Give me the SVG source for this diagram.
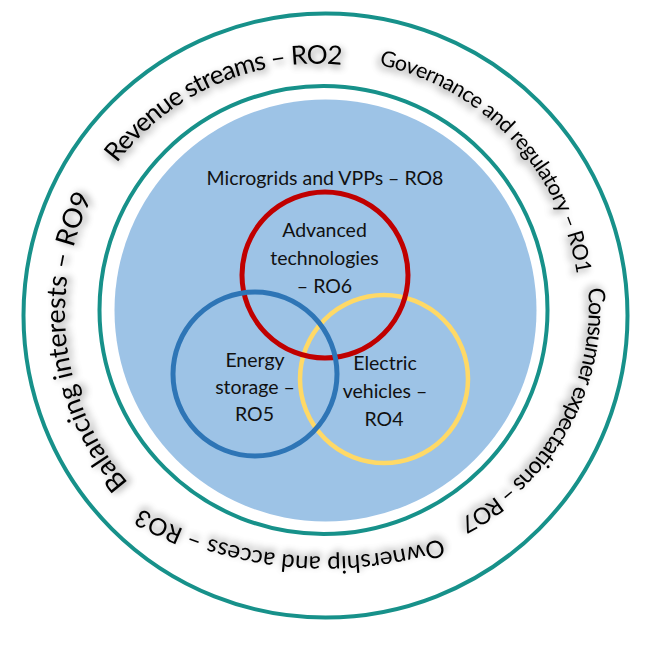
<svg xmlns="http://www.w3.org/2000/svg" xmlns:xlink="http://www.w3.org/1999/xlink" width="647" height="648" viewBox="0 0 647 648">
  <style>
    .ring { fill: none; stroke: #17918a; stroke-width: 4; }
    .venn { fill: none; }
    .lbl { font-family: Lato, "Liberation Sans", Arial, sans-serif; font-size: 19.5px; fill: #111111; text-anchor: middle; }
    .arc { font-family: Lato, "Liberation Sans", Arial, sans-serif; fill: #000000; }
  </style>
  <defs>
    <filter id="sh-rev" x="-20%" y="-20%" width="140%" height="140%">
      <feGaussianBlur in="SourceAlpha" stdDeviation="3.5"/>
      <feOffset dx="1.6" dy="3.4" result="b"/>
      <feFlood flood-color="#000" flood-opacity="0.5"/>
      <feComposite in2="b" operator="in"/>
      <feMerge><feMergeNode/><feMergeNode in="SourceGraphic"/></feMerge>
    </filter>
    <filter id="sh-gov" x="-20%" y="-20%" width="140%" height="140%">
      <feGaussianBlur in="SourceAlpha" stdDeviation="3.5"/>
      <feOffset dx="-2.6" dy="2.5" result="b"/>
      <feFlood flood-color="#000" flood-opacity="0.5"/>
      <feComposite in2="b" operator="in"/>
      <feMerge><feMergeNode/><feMergeNode in="SourceGraphic"/></feMerge>
    </filter>
    <filter id="sh-con" x="-20%" y="-20%" width="140%" height="140%">
      <feGaussianBlur in="SourceAlpha" stdDeviation="3.5"/>
      <feOffset dx="-3.2" dy="-1.6" result="b"/>
      <feFlood flood-color="#000" flood-opacity="0.5"/>
      <feComposite in2="b" operator="in"/>
      <feMerge><feMergeNode/><feMergeNode in="SourceGraphic"/></feMerge>
    </filter>
    <filter id="sh-own" x="-20%" y="-20%" width="140%" height="140%">
      <feGaussianBlur in="SourceAlpha" stdDeviation="3.5"/>
      <feOffset dx="0.5" dy="-3.5" result="b"/>
      <feFlood flood-color="#000" flood-opacity="0.5"/>
      <feComposite in2="b" operator="in"/>
      <feMerge><feMergeNode/><feMergeNode in="SourceGraphic"/></feMerge>
    </filter>
    <filter id="sh-bal" x="-20%" y="-20%" width="140%" height="140%">
      <feGaussianBlur in="SourceAlpha" stdDeviation="3.5"/>
      <feOffset dx="3.5" dy="-0.4" result="b"/>
      <feFlood flood-color="#000" flood-opacity="0.5"/>
      <feComposite in2="b" operator="in"/>
      <feMerge><feMergeNode/><feMergeNode in="SourceGraphic"/></feMerge>
    </filter>
    <path id="p-rev" d="M117,163 A250,250 0 0 1 342,65"/>
    <path id="p-gov" d="M379,65 A254,254 0 0 1 577,275"/>
    <path id="p-con" d="M588,288 A238,238 0 0 1 458,520"/>
    <path id="p-own" d="M441.7,538.3 A380,380 0 0 1 140,508"/>
    <path id="p-bal" d="M128.2,482.9 A260,260 0 0 1 92.7,196.2"/>
  </defs>

  <g id="outer-ring">
    <circle class="ring" cx="325.5" cy="315.5" r="302"/>
  </g>
  <g id="inner-ring">
    <circle class="ring" cx="323.5" cy="310" r="224"/>
  </g>
  <g id="core">
    <circle cx="325.5" cy="310.5" r="211" fill="#9dc3e6"/>
    <text class="lbl" x="325" y="185">Microgrids and VPPs – RO8</text>
  </g>

  <g id="electric-vehicles">
    <circle class="venn" cx="384" cy="379" r="84" stroke="#ffd966" stroke-width="4.5"/>
    <text class="lbl" x="385" y="369.5">Electric</text>
    <text class="lbl" x="385" y="397.5">vehicles –</text>
    <text class="lbl" x="384" y="425.5">RO4</text>
  </g>
  <g id="advanced-technologies">
    <circle class="venn" cx="325" cy="275" r="83" stroke="#c00000" stroke-width="5"/>
    <text class="lbl" x="324.5" y="237">Advanced</text>
    <text class="lbl" x="324.5" y="265">technologies</text>
    <text class="lbl" x="324.5" y="293">– RO6</text>
  </g>
  <g id="energy-storage">
    <circle class="venn" cx="255" cy="374" r="82" stroke="#2e75b6" stroke-width="5"/>
    <text class="lbl" x="255" y="367">Energy</text>
    <text class="lbl" x="255" y="393.5">storage –</text>
    <text class="lbl" x="254.5" y="421">RO5</text>
  </g>

  <g id="connectors"/>

  <g id="revenue-streams">
    <text class="arc" font-size="26" filter="url(#sh-rev)"><textPath xlink:href="#p-rev" href="#p-rev" textLength="256" lengthAdjust="spacing">Revenue streams – RO2</textPath></text>
  </g>
  <g id="governance">
    <text class="arc" font-size="21.5" filter="url(#sh-gov)"><textPath xlink:href="#p-gov" href="#p-gov" textLength="306" lengthAdjust="spacing">Governance and regulatory – RO1</textPath></text>
  </g>
  <g id="consumer-expectations">
    <text class="arc" font-size="23" filter="url(#sh-con)"><textPath xlink:href="#p-con" href="#p-con" textLength="281" lengthAdjust="spacing">Consumer expectations – RO7</textPath></text>
  </g>
  <g id="ownership-access">
    <text class="arc" font-size="24" filter="url(#sh-own)"><textPath xlink:href="#p-own" href="#p-own" textLength="311" lengthAdjust="spacing">Ownership and access – RO3</textPath></text>
  </g>
  <g id="balancing-interests">
    <text class="arc" font-size="27" filter="url(#sh-bal)"><textPath xlink:href="#p-bal" href="#p-bal" textLength="305" lengthAdjust="spacing">Balancing interests – RO9</textPath></text>
  </g>
</svg>
